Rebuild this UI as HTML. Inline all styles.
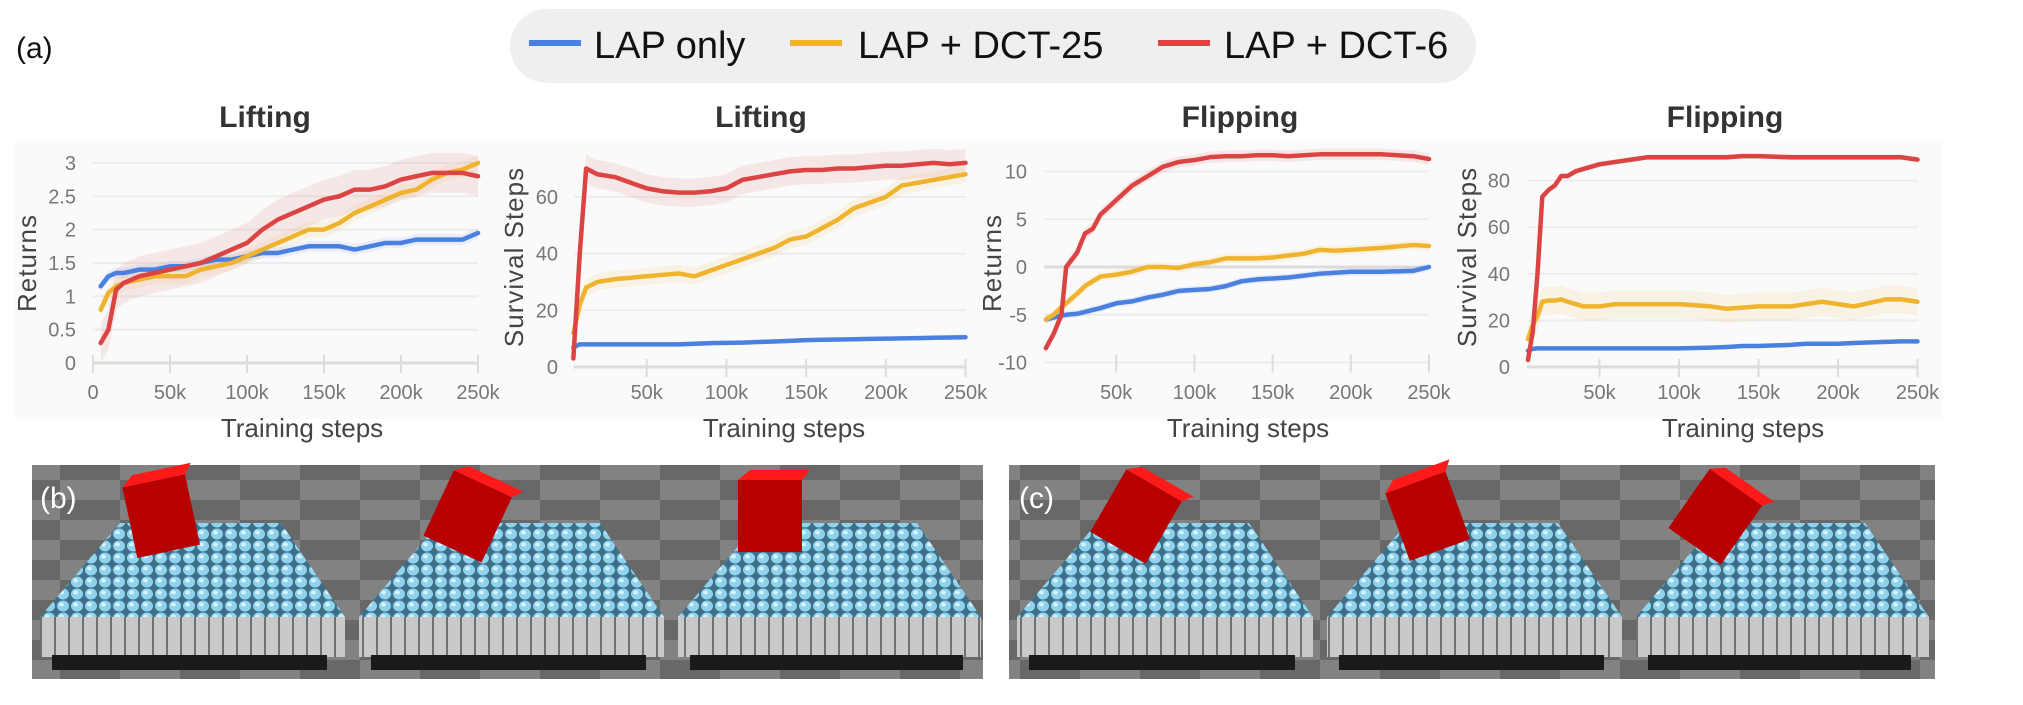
<!DOCTYPE html>
<html><head><meta charset="utf-8">
<style>
html,body{margin:0;padding:0;background:#fff;}
svg{display:block;font-family:"Liberation Sans",sans-serif;}
</style></head>
<body>
<svg id="fig" width="2023" height="705" viewBox="0 0 2023 705" xmlns="http://www.w3.org/2000/svg">
  <defs>
    <pattern id="checker" width="120" height="40" patternUnits="userSpaceOnUse">
      <rect width="120" height="40" fill="#8a8a8a"/>
      <rect width="60" height="20" fill="#6e6e6e"/>
      <rect x="60" y="20" width="60" height="20" fill="#6e6e6e"/>
    </pattern>
    <pattern id="pins" width="14" height="12" patternUnits="userSpaceOnUse">
      <rect width="14" height="12" fill="#3e6f86"/>
      <ellipse cx="7" cy="6" rx="6" ry="5.5" fill="#8fd3ee"/>
      <ellipse cx="5.5" cy="4.5" rx="2.5" ry="2" fill="#d6f2fc"/>
    </pattern>
    <pattern id="cols" width="14" height="40" patternUnits="userSpaceOnUse">
      <rect width="14" height="40" fill="#c9c9c9"/>
      <rect x="12" width="2" height="40" fill="#707070"/>
    </pattern>
  </defs>
  <rect x="14" y="141" width="1929" height="278" fill="#fafafa"/>
  <text x="16" y="58" font-size="30" fill="#111">(a)</text>
  <g>
    <rect x="510" y="9" width="966" height="74" rx="37" fill="#efefef"/>
    <g>
      <line x1="529" y1="43" x2="581" y2="43" stroke="#4a80e0" stroke-width="6"/>
      <text x="594" y="58" font-size="38" fill="#111">LAP only</text>
    </g>
    <g>
      <line x1="790" y1="43" x2="842" y2="43" stroke="#f0b32e" stroke-width="6"/>
      <text x="858" y="58" font-size="38" fill="#111">LAP + DCT-25</text>
    </g>
    <g>
      <line x1="1158" y1="43" x2="1210" y2="43" stroke="#dc4343" stroke-width="6"/>
      <text x="1224" y="58" font-size="38" fill="#111">LAP + DCT-6</text>
    </g>
  </g>
  <g id="charts"></g>
  <g id="sims"></g>
</svg>
<script>
// ---- data (x in thousands of training steps) ----
const liftRetX = [5,10,15,20,30,40,50,60,70,80,90,100,110,120,130,140,150,160,170,180,190,200,210,220,230,240,250];
const liftRetBlue = [1.15,1.3,1.35,1.35,1.4,1.4,1.45,1.45,1.5,1.55,1.55,1.6,1.65,1.65,1.7,1.75,1.75,1.75,1.7,1.75,1.8,1.8,1.85,1.85,1.85,1.85,1.95];
const liftRetYellow = [0.8,1.05,1.15,1.2,1.25,1.3,1.3,1.3,1.4,1.45,1.5,1.6,1.7,1.8,1.9,2.0,2.0,2.1,2.25,2.35,2.45,2.55,2.6,2.75,2.85,2.9,3.0];
const liftRetRed = [0.3,0.5,1.1,1.2,1.3,1.35,1.4,1.45,1.5,1.6,1.7,1.8,2.0,2.15,2.25,2.35,2.45,2.5,2.6,2.6,2.65,2.75,2.8,2.85,2.85,2.85,2.8];
const liftRetBand = [0.08,0.12,0.3];

const liftSurvX = [4,8,12,19,30,40,50,60,70,80,90,100,110,120,130,140,150,160,170,180,190,200,210,220,230,240,250];
const liftSurvBlue = [7,8,8,8,8,8,8,8,8,8.2,8.4,8.5,8.6,8.8,9,9.2,9.5,9.6,9.7,9.8,9.9,10,10.1,10.2,10.3,10.4,10.5];
const liftSurvYellow = [12,22,28,30,31,31.5,32,32.5,33,32,34,36,38,40,42,45,46,49,52,56,58,60,64,65,66,67,68];
const liftSurvRed = [3,40,70,68,67,65,63,62,61.5,61.5,62,63,66,67,68,69,69.5,69.5,70,70,70.5,71,71,71.5,72,71.5,72];
const liftSurvBand = [0.6,3,5];

const flipRetX = [5,10,15,18,25,30,35,40,50,60,70,80,90,100,110,120,130,140,150,160,170,180,190,200,220,240,250];
const flipRetBlue = [-5.5,-5.3,-5.1,-5,-4.9,-4.7,-4.5,-4.3,-3.8,-3.6,-3.2,-2.9,-2.5,-2.4,-2.3,-2.0,-1.5,-1.3,-1.2,-1.1,-0.9,-0.7,-0.6,-0.5,-0.5,-0.4,0];
const flipRetYellow = [-5.5,-5,-4.2,-3.8,-2.8,-2,-1.5,-1,-0.8,-0.5,0,0,-0.1,0.3,0.5,0.9,0.9,0.9,1.0,1.2,1.4,1.8,1.7,1.8,2.0,2.3,2.2];
const flipRetRed = [-8.5,-7,-5,0,1.5,3.5,4,5.5,7,8.5,9.5,10.5,11,11.2,11.5,11.6,11.6,11.7,11.7,11.6,11.7,11.8,11.8,11.8,11.8,11.6,11.3];
const flipRetBand = [0.4,0.5,0.6];

const flipSurvX = [5,8,11,14,18,22,26,30,35,40,50,60,70,80,100,120,130,140,150,170,180,190,200,210,230,240,250];
const flipSurvBlue = [7,7.8,8,8,8,8,8,8,8,8,8,8,8,8,8,8.3,8.6,9,9,9.5,10,10,10,10.3,10.8,11,11];
const flipSurvYellow = [12,18,22,28,28.5,28.5,29,28,27,26,26,27,27,27,27,26,25,25.5,26,26,27,28,27,26,29,29,28];
const flipSurvRed = [3,15,40,73,76,78,82,82,84,85,87,88,89,90,90,90,90,90.5,90.5,90,90,90,90,90,90,90,89];
const flipSurvBand = [0.8,6,1.2];

const xTickVals = [0,50,100,150,200,250];
const xTickLabels = ["0","50k","100k","150k","200k","250k"];
const liftRetYTicks = [0,0.5,1,1.5,2,2.5,3];
const liftRetYLabels = ["0","0.5","1","1.5","2","2.5","3"];
const liftSurvYTicks = [0,20,40,60];
const flipRetYTicks = [-10,-5,0,5,10];
const flipRetYLabels = ["-10","-5","0","5","10"];
const flipSurvYTicks = [0,20,40,60,80];

const COLORS = ["#4a80e0","#f0b32e","#dc4343"];
const NS = "http://www.w3.org/2000/svg";
function mk(tag, attrs, parent){
  const e = document.createElementNS(NS, tag);
  for (const k in attrs) e.setAttribute(k, attrs[k]);
  parent.appendChild(e);
  return e;
}
const root = document.getElementById("charts");

function drawChart(cfg){
  const g = mk("g", {}, root);
  
  
  const sx = v => cfg.x0 + v / 50 * cfg.xStep;
  const sy = v => cfg.yZero - (v - cfg.yBase) * cfg.yScale;
  cfg.yTicks.forEach((t, i) => {
    const gl = mk("line", {x1: cfg.gx1, x2: cfg.gx2, y1: sy(t), y2: sy(t), stroke: "#ececec", "stroke-width": 2}, g);
    
    
    const tl = mk("text", {x: cfg.ylx, y: sy(t) + 7, "text-anchor": "end", "font-size": 20, fill: "#777"}, g);
    tl.textContent = cfg.yLabels[i];
    
    
  });
  const ax = mk("line", {x1: cfg.gx1, x2: cfg.gx2, y1: sy(cfg.axisAt), y2: sy(cfg.axisAt), stroke: "#dcdcdc", "stroke-width": 3}, g);
  
  
  const bottom = sy(cfg.yTicks[0]);
  xTickVals.forEach((t, i) => {
    if (t === 0 && !cfg.zeroLabel) return;
    const tk = mk("line", {x1: sx(t), x2: sx(t), y1: bottom - 8, y2: bottom + 10, stroke: "#dcdcdc", "stroke-width": 2}, g);
    
    
    const tl = mk("text", {x: sx(t), y: 399, "text-anchor": "middle", "font-size": 20, fill: "#777"}, g);
    tl.textContent = xTickLabels[i];
    
    
  });
  cfg.series.forEach((ys, si) => {
    const bw = cfg.band[si];
    let up = cfg.xs.map((x, i) => sx(x) + "," + sy(ys[i] + bw)).join(" ");
    let dn = cfg.xs.map((x, i) => sx(x) + "," + sy(ys[i] - bw)).reverse().join(" ");
    const b = mk("polygon", {points: up + " " + dn, fill: COLORS[si], "fill-opacity": 0.1}, g);
    
    
  });
  cfg.series.forEach((ys, si) => {
    const pts = cfg.xs.map((x, i) => sx(x) + "," + sy(ys[i])).join(" ");
    const l = mk("polyline", {points: pts, fill: "none", stroke: COLORS[si], "stroke-width": 4.5, "stroke-linejoin": "round", "stroke-linecap": "round"}, g);
    
    
  });
  const t = mk("text", {x: cfg.titleX, y: 127, "text-anchor": "middle", "font-size": 30, "font-weight": "bold", fill: "#333"}, g);
  t.textContent = cfg.title;
  
  
  const xt = mk("text", {x: cfg.xtX, y: 437, "text-anchor": "middle", "font-size": 26, fill: "#444"}, g);
  xt.textContent = "Training steps";
  
  
  const yt = mk("text", {x: 0, y: 0, "text-anchor": "middle", "font-size": 26, fill: "#444", "letter-spacing": 1, transform: "translate(" + cfg.ytX + "," + cfg.ytY + ") rotate(-90)"}, g);
  yt.textContent = cfg.yTitle;
  
  
}
const names = ["lap-only","lap-dct25","lap-dct6"];
drawChart({name:"chart-lifting-returns", title:"Lifting", yTitle:"Returns", x0:93, xStep:77, yZero:363, yBase:0, yScale:66.7,
  gx1:93, gx2:478, ylx:76, titleX:265, xtX:302, ytX:36, ytY:263, zeroLabel:true, axisAt:0,
  yTicks:liftRetYTicks, yLabels:liftRetYLabels, xs:liftRetX, series:[liftRetBlue,liftRetYellow,liftRetRed], band:liftRetBand, seriesNames:names});
drawChart({name:"chart-lifting-survival", title:"Lifting", yTitle:"Survival Steps", x0:567, xStep:79.7, yZero:367, yBase:0, yScale:2.835,
  gx1:574, gx2:966, ylx:558, titleX:761, xtX:784, ytX:523, ytY:257, zeroLabel:false, axisAt:0,
  yTicks:liftSurvYTicks, yLabels:liftSurvYTicks.map(String), xs:liftSurvX, series:[liftSurvBlue,liftSurvYellow,liftSurvRed], band:liftSurvBand, seriesNames:names});
drawChart({name:"chart-flipping-returns", title:"Flipping", yTitle:"Returns", x0:1038, xStep:78.2, yZero:267, yBase:0, yScale:9.55,
  gx1:1044, gx2:1429, ylx:1027, titleX:1240, xtX:1248, ytX:1001, ytY:263, zeroLabel:false, axisAt:0,
  yTicks:flipRetYTicks, yLabels:flipRetYLabels, xs:flipRetX, series:[flipRetBlue,flipRetYellow,flipRetRed], band:flipRetBand, seriesNames:names});
drawChart({name:"chart-flipping-survival", title:"Flipping", yTitle:"Survival Steps", x0:1520, xStep:79.5, yZero:367, yBase:0, yScale:2.33,
  gx1:1527, gx2:1918, ylx:1510, titleX:1725, xtX:1743, ytX:1476, ytY:257, zeroLabel:false, axisAt:0,
  yTicks:flipSurvYTicks, yLabels:flipSurvYTicks.map(String), xs:flipSurvX, series:[flipSurvBlue,flipSurvYellow,flipSurvRed], band:flipSurvBand, seriesNames:names});

// ---- simulation snapshots (illustrative) ----
const sims = document.getElementById("sims");
const panelX = [32, 351, 670, 1009, 1319, 1628];
const panelW = [319, 319, 317, 310, 309, 307];
const cubeDX = [130, 115, 100, 125, 110, 85];
const cubeRot = [-12, 25, 0, 30, -20, 35];
panelX.forEach((x0, i) => {
  const g = mk("g", {}, sims);
  
  
  const w = panelW[i];
  mk("rect", {x: x0, y: 465, width: w, height: 214, fill: "url(#checker)"}, g);
  mk("rect", {x: x0, y: 465, width: w, height: 214, fill: "#000", "fill-opacity": 0.05}, g);
  mk("polygon", {points: (x0+88)+",523 "+(x0+w-70)+",523 "+(x0+w-6)+",617 "+(x0+8)+",617", fill: "url(#pins)"}, g);
  mk("rect", {x: x0 + 8, y: 617, width: w - 14, height: 40, fill: "url(#cols)"}, g);
  mk("rect", {x: x0 + 20, y: 655, width: w - 44, height: 15, fill: "#1a1a1a"}, g);
  const cx = x0 + cubeDX[i], cy = 520;
  mk("rect", {x: cx - 32, y: cy - 40, width: 64, height: 72, fill: "#b80000", transform: "rotate(" + cubeRot[i] + " " + cx + " " + cy + ")"}, g);
  mk("polygon", {points: (cx-32)+","+(cy-40)+" "+(cx-20)+","+(cy-50)+" "+(cx+40)+","+(cy-50)+" "+(cx+32)+","+(cy-40), fill: "#ff1a1a", transform: "rotate(" + cubeRot[i] + " " + cx + " " + cy + ")"}, g);
});
mk("rect", {x: 983, y: 460, width: 26, height: 225, fill: "#fff"}, sims);
const lb = mk("text", {x: 40, y: 508, "font-size": 30, fill: "#fff"}, sims);
lb.textContent = "(b)";


const lc = mk("text", {x: 1019, y: 508, "font-size": 30, fill: "#fff"}, sims);
lc.textContent = "(c)";


</script>
</body></html>
